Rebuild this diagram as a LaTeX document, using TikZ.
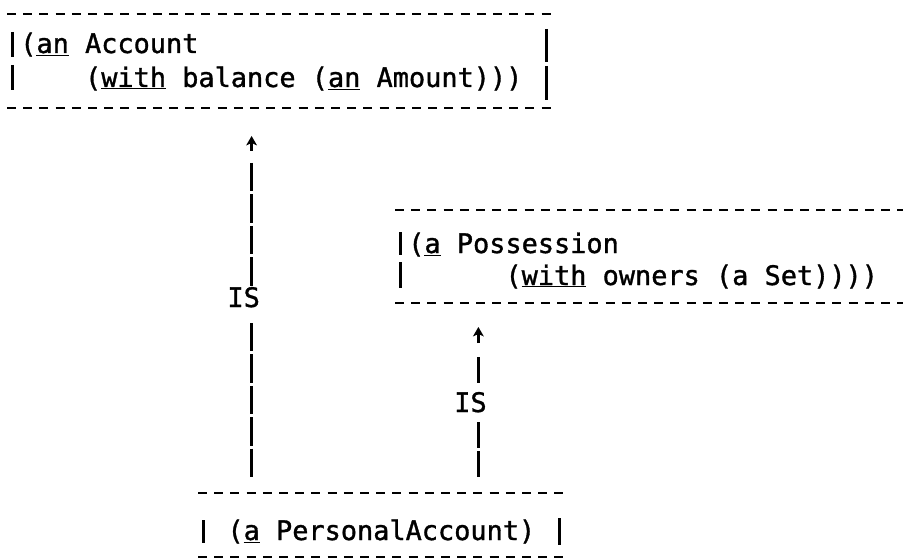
\documentclass[tikz,border=0pt]{standalone}
\usepackage{fontspec}
\newfontfamily\lpfont[FakeBold=1.2]{DejaVu Sans Mono}
\newcommand{\ulx}[1]{\underline{#1}}
\begin{document}
\begin{tikzpicture}[x=1pt,y=-1pt,
  txt/.style={anchor=base west, inner sep=0pt, font=\lpfont\fontsize{26.9}{34}\selectfont},
  hdash/.style={line width=2.6pt, dash pattern=on 9pt off 7.2pt},
  vbar/.style={line width=3pt},
  conn/.style={line width=3pt, dash pattern=on 28.4pt off 3pt},
  shaft/.style={line width=2.4pt},
  head/.style={fill=black}]
\useasboundingbox[fill=white] (0,0) rectangle (903,559);

% ---------- Account box (column 0 at x=12, pitch 16.2)
\coordinate (accTL) at (7,14);    \coordinate (accTR) at (551,14);
\coordinate (accBL) at (7,108);   \coordinate (accBR) at (551,108);
\draw[hdash] (accTL) -- (accTR);
\draw[hdash] (accBL) -- (accBR);
\draw[vbar] (12,32) -- (12,57);
\draw[vbar] (12,65) -- (12,90);
\draw[vbar] (546.6,29) -- (546.6,62);
\draw[vbar] (546.6,66) -- (546.6,100);
\node[txt] (acc1) at (20.1,53) {(\ulx{an} Account};
\node[txt] (acc2) at (84.9,87) {(\ulx{with} balance (\ulx{an} Amount)))};

% ---------- Possession box (column 0 at x=400)
\coordinate (posTL) at (395,210); \coordinate (posTR) at (903,210);
\coordinate (posBL) at (395,303); \coordinate (posBR) at (903,303);
\draw[hdash] (posTL) -- (posTR);
\draw[hdash] (posBL) -- (posBR);
\draw[vbar] (400,232) -- (400,255);
\draw[vbar] (400,262) -- (400,288);
\node[txt] (pos1) at (408.1,253) {(\ulx{a} Possession};
\node[txt] (pos2) at (505.3,285) {(\ulx{with} owners (a Set))))};

% ---------- PersonalAccount box (column 0 at x=203)
\coordinate (paTL) at (198,493);  \coordinate (paTR) at (565,493);
\coordinate (paBL) at (198,557);  \coordinate (paBR) at (565,557);
\draw[hdash] (paTL) -- (paTR);
\draw[hdash] (paBL) -- (paBR);
\draw[vbar] (203,520) -- (203,543);
\draw[vbar] (559.4,518) -- (559.4,545);
\node[txt] (pa) at (227.3,540) {(\ulx{a} PersonalAccount)};

% ---------- IS connector: PersonalAccount -> Account
\coordinate (lTipTop) at (251.6,136);
\coordinate (lTipMid) at (251.6,143);
\coordinate (lTipBot) at (251.6,151);
\coordinate (lUpTop) at (251.6,163);
\coordinate (lUpBot) at (251.6,286);
\coordinate (lLoTop) at (251.6,323);
\coordinate (lLoBot) at (251.6,477);
\draw[shaft] (lTipBot) -- (lTipMid);
\fill[head] (lTipTop) -- ++(-5.5,9.5) -- ++(5.5,-2.5) -- ++(5.5,2.5) -- cycle;
\draw[conn] (lUpTop) -- (lUpBot);
\draw[conn] (lLoTop) -- (lLoBot);
\node[txt] (isL) at (227.3,307) {IS};

% ---------- IS connector: PersonalAccount -> Possession
\coordinate (rTipTop) at (478.4,327);
\coordinate (rTipMid) at (478.4,334);
\coordinate (rTipBot) at (478.4,343);
\coordinate (rUpTop) at (478.4,357);
\coordinate (rUpBot) at (478.4,383);
\coordinate (rLoTop) at (478.4,422);
\coordinate (rLoBot) at (478.4,477);
\draw[shaft] (rTipBot) -- (rTipMid);
\fill[head] (rTipTop) -- ++(-5.5,9.5) -- ++(5.5,-2.5) -- ++(5.5,2.5) -- cycle;
\draw[line width=3pt] (rUpTop) -- (rUpBot);
\draw[line width=3pt, dash pattern=on 26pt off 3pt] (rLoTop) -- (rLoBot);
\node[txt] (isR) at (454.1,412) {IS};
\end{tikzpicture}
\end{document}
